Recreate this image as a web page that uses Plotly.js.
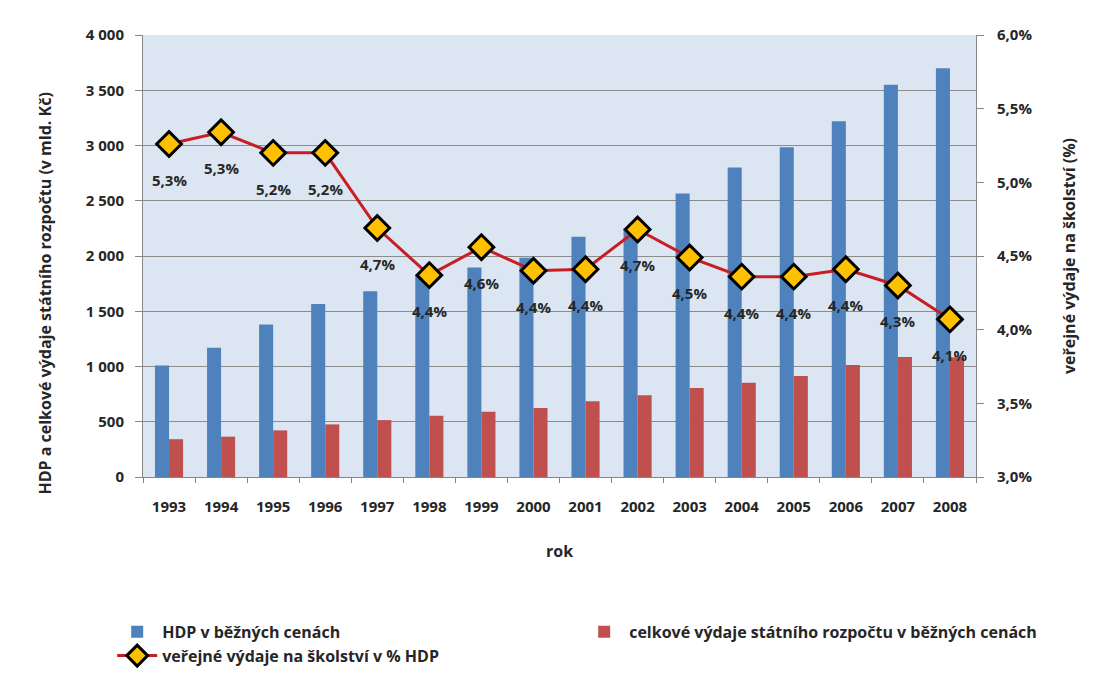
<!DOCTYPE html>
<html>
<head>
<meta charset="utf-8">
<script src="https://cdn.plot.ly/plotly-3.0.1.min.js"></script>
<style>html,body{margin:0;padding:0;background:#fff;}#chart{width:1111px;height:677px;}</style>
</head>
<body>
<div id="chart"></div>
<script>
// Data
const years = ['1993','1994','1995','1996','1997','1998','1999','2000','2001','2002','2003','2004','2005','2006','2007','2008'];
const hdp = [1010, 1170, 1380, 1565, 1680, 1830, 1895, 1985, 2175, 2250, 2565, 2800, 2985, 3220, 3550, 3700];
const vydaje = [342, 365, 422, 476, 515, 554, 590, 625, 685, 739, 805, 853, 913, 1013, 1085, 1083];
const skolstvi = [5.26, 5.34, 5.20, 5.20, 4.69, 4.37, 4.56, 4.40, 4.41, 4.68, 4.49, 4.36, 4.36, 4.41, 4.30, 4.07];

// Axis tick values and labels
const leftTickVals = [0, 500, 1000, 1500, 2000, 2500, 3000, 3500, 4000];
const leftTickText = ['0', '500', '1 000', '1 500', '2 000', '2 500', '3 000', '3 500', '4 000'];
const rightTickVals = [3.0, 3.5, 4.0, 4.5, 5.0, 5.5, 6.0];
const rightTickText = ['3,0%', '3,5%', '4,0%', '4,5%', '5,0%', '5,5%', '6,0%'];

const nameHdp = 'HDP v běžných cenách';
const nameVydaje = 'celkové výdaje státního rozpočtu v běžných cenách';
const nameSkol = 'veřejné výdaje na školství v % HDP';
const leftTitle = 'HDP a celkové výdaje státního rozpočtu (v mld. Kč)';
const rightTitle = 'veřejné výdaje na školství (%)';
const xTitle = 'rok';

const FONT = '"Open Sans", Lato, sans-serif';
const TXT = '#262626';
const f = (s)=>({family:FONT, size:s, color:TXT, weight:'bold'});

const traces = [
  {type:'bar', name:nameHdp, x:years, y:hdp, marker:{color:'#4F81BD'}},
  {type:'bar', name:nameVydaje, x:years, y:vydaje, marker:{color:'#C0504D'}},
  {type:'scatter', mode:'lines+markers', name:nameSkol, x:years, y:skolstvi, yaxis:'y2',
   line:{color:'#C81E23', width:3},
   marker:{symbol:'diamond', size:19, color:'#FFC000', line:{color:'#000', width:3}}}
];

// data labels (category index used as position on the category axis)
const annotations = years.map((yr,i)=>({
  x:i, y:skolstvi[i], xref:'x', yref:'y2',
  text:skolstvi[i].toFixed(1).replace('.',',')+'%',
  showarrow:false, yshift:-36,
  font:f(15)
}));
// left axis title (placed as in the reference, slightly below the plot centre)
annotations.push({
  text:leftTitle, xref:'paper', yref:'paper', x:-0.1176, y:0.415,
  xanchor:'center', yanchor:'middle', textangle:-90, showarrow:false, font:f(16)
});

const layout = {
  width:1111, height:677,
  margin:{l:143, r:135, t:35, b:200, autoexpand:false},
  paper_bgcolor:'#ffffff',
  plot_bgcolor:'#DCE6F2',
  font:f(15),
  barmode:'group', bargap:0.46, bargroupgap:0,
  showlegend:true,
  legend:{orientation:'h', x:-0.037, xanchor:'left', y:-0.312, yanchor:'top',
          entrywidth:412, entrywidthmode:'pixels', itemwidth:40, traceorder:'normal',
          font:f(16)},
  xaxis:{type:'category', categoryorder:'array', categoryarray:years, range:[-0.5, years.length-0.5],
         autorange:false,
         tickson:'boundaries', ticks:'outside', ticklen:5, tickcolor:'#868686',
         showline:true, linecolor:'#868686', linewidth:1, showgrid:false, tickangle:0,
         ticklabelstandoff:16, tickfont:f(15),
         title:{text:xTitle, standoff:30, font:f(16)}},
  yaxis:{range:[0,4000], autorange:false, tickmode:'array', tickvals:leftTickVals, ticktext:leftTickText,
         ticks:'outside', ticklen:7, tickcolor:'#868686', tickfont:f(15),
         showline:true, linecolor:'#868686', gridcolor:'#8C8C8C', gridwidth:1, zeroline:false,
         ticklabelstandoff:8},
  yaxis2:{overlaying:'y', side:'right', range:[3,6], autorange:false, tickmode:'array', tickvals:rightTickVals, ticktext:rightTickText,
          ticks:'outside', ticklen:7, tickcolor:'#868686', showline:true, linecolor:'#868686', tickfont:f(15),
          showgrid:false, zeroline:false, ticklabelstandoff:10,
          title:{text:rightTitle, standoff:32, font:f(16)}},
  annotations:annotations
};

Plotly.newPlot('chart', traces, layout, {displayModeBar:false, staticPlot:true});
</script>
</body>
</html>
